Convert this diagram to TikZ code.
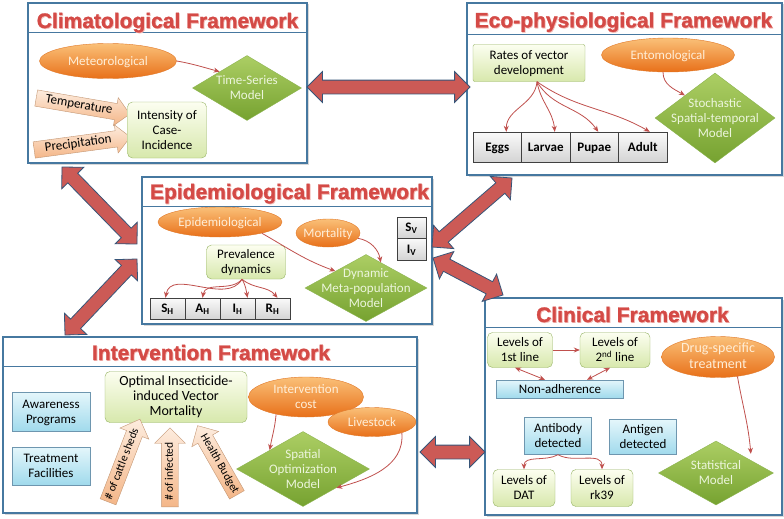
\documentclass[tikz,border=0pt]{standalone}
\usepackage{fontspec}
\setmainfont{Carlito}
\newfontfamily\titlefamily[FakeBold=1.2]{Liberation Sans Bold}
\usetikzlibrary{shapes.geometric,shapes.arrows,arrows.meta,shadows,calc}
\definecolor{framecol}{RGB}{70,120,160}
\definecolor{titlered}{RGB}{212,74,70}
\definecolor{titleglow}{RGB}{244,185,180}
\definecolor{arrred}{RGB}{192,80,77}
\definecolor{bigfill}{RGB}{204,90,86}
\definecolor{bigedge}{RGB}{55,85,120}
\definecolor{orangetop}{RGB}{250,192,120}
\definecolor{orangebot}{RGB}{232,112,25}
\definecolor{orangeedge}{RGB}{225,120,40}
\definecolor{orangetext}{RGB}{255,238,215}
\definecolor{greentop}{RGB}{172,206,100}
\definecolor{greenbot}{RGB}{118,162,48}
\definecolor{greenedge}{RGB}{140,180,80}
\definecolor{greentext}{RGB}{236,245,220}
\definecolor{lgtop}{RGB}{252,254,240}
\definecolor{lgbot}{RGB}{215,232,172}
\definecolor{lgedge}{RGB}{150,180,100}
\definecolor{lbtop}{RGB}{228,246,251}
\definecolor{lbbot}{RGB}{160,218,236}
\definecolor{lbedge}{RGB}{110,150,175}
\definecolor{greytop}{RGB}{250,250,250}
\definecolor{greybot}{RGB}{212,212,212}
\definecolor{peachtop}{RGB}{253,236,222}
\definecolor{peachbot}{RGB}{244,182,136}
\definecolor{peachedge}{RGB}{195,150,115}
\newcommand\ctext[1]{\makebox[0pt]{\smash{\raisebox{-4.3pt}{\begin{tabular}{@{}c@{}}#1\end{tabular}}}}}
\newcommand\bodyfont{\fontsize{13}{15}\selectfont}
\newcommand\smallbody{\fontsize{11.5}{13}\selectfont}
\newcommand\titlefont{\titlefamily\fontsize{21}{24}\selectfont}
\tikzset{
  frame/.style={rectangle, draw=framecol, line width=1.1pt, fill=white, inner sep=0pt,
    drop shadow={shadow xshift=1.5pt, shadow yshift=-1.5pt, opacity=.3}},
  ftitle/.style={font=\titlefont, text=titlered, inner sep=0pt, anchor=base},
  fglow/.style={font=\titlefont, text=titleglow, inner sep=0pt, anchor=base},
  orangeell/.style={ellipse, draw=orangeedge, top color=orangetop, bottom color=orangebot,
    text=orangetext, inner sep=0pt, font=\bodyfont},
  greendia/.style={diamond, draw=greenedge, top color=greentop, bottom color=greenbot,
    text=greentext, inner sep=0pt, font=\bodyfont},
  lgbox/.style={rectangle, rounded corners=5pt, draw=lgedge, top color=lgtop, bottom color=lgbot,
    inner sep=0pt, font=\bodyfont},
  lbbox/.style={rectangle, draw=lbedge, top color=lbtop, bottom color=lbbot, inner sep=0pt, font=\bodyfont},
  cellbox/.style={rectangle, draw=black!75, top color=greytop, bottom color=greybot, inner sep=0pt,
    font=\bodyfont\bfseries},
  peach/.style={single arrow, draw=peachedge, top color=peachtop, bottom color=peachbot,
    single arrow head extend=6pt, inner xsep=2pt, inner ysep=1.5pt, text height=9.5pt,
    text depth=3.5pt, font=\bodyfont},
  peachs/.style={peach, font=\smallbody, text height=9pt, text depth=3.5pt, inner ysep=2pt,
    single arrow head extend=7pt},
  bigarr/.style={double arrow, draw=bigedge, fill=bigfill, line width=.8pt,
    double arrow head extend=8.5pt, inner sep=0pt, text height=6.5pt, text depth=6.5pt},
  rarr/.style={draw=arrred, line width=.8pt, -{Stealth[length=6pt,width=5pt]}},
  rdarr/.style={draw=arrred, line width=.8pt, {Stealth[length=6pt,width=5pt]}-{Stealth[length=6pt,width=5pt]}},
}
\begin{document}
\begin{tikzpicture}[x=1pt,y=1pt]
\fill[white] (0,0) rectangle (784,-519);
\useasboundingbox (0,0) rectangle (784,-519);

% ---------- frames ----------
\node[frame, minimum width=279, minimum height=160] (clim) at (167.5,-83) {};
\node[frame, minimum width=315, minimum height=172] (eco) at (624.5,-89) {};
\node[frame, minimum width=290, minimum height=147] (epi) at (287,-250.5) {};
\node[frame, minimum width=297, minimum height=217] (clin) at (633.5,-406.5) {};
\node[frame, minimum width=414, minimum height=176] (interv) at (210,-425) {};
\draw[framecol, line width=1.1pt] ([yshift=-30pt]clim.north west) -- ([yshift=-30pt]clim.north east);
\draw[framecol, line width=1.1pt] ([yshift=-32pt]eco.north west) -- ([yshift=-32pt]eco.north east);
\draw[framecol, line width=1.1pt] ([yshift=-30pt]epi.north west) -- ([yshift=-30pt]epi.north east);
\draw[framecol, line width=1.1pt] ([yshift=-30pt]clin.north west) -- ([yshift=-30pt]clin.north east);
\draw[framecol, line width=1.1pt] ([yshift=-30pt]interv.north west) -- ([yshift=-30pt]interv.north east);

% ---------- titles ----------
\node[fglow] (climTs) at (168.3,-28.8) {Climatological Framework};
\node[ftitle] (climT) at (167.5,-28) {Climatological Framework};
\node[fglow] (ecoTs) at (624.3,-28.3) {Eco-physiological Framework};
\node[ftitle] (ecoT) at (623.5,-27.5) {Eco-physiological Framework};
\node[fglow] (epiTs) at (290.3,-199.8) {Epidemiological Framework};
\node[ftitle] (epiT) at (289.5,-199) {Epidemiological Framework};
\node[fglow] (clinTs) at (633.3,-322.8) {Clinical Framework};
\node[ftitle] (clinT) at (632.5,-322) {Clinical Framework};
\node[fglow] (intTs) at (211.8,-360.8) {Intervention Framework};
\node[ftitle] (intT) at (211,-360) {Intervention Framework};

% ---------- Climatological ----------
\node[orangeell, minimum width=137, minimum height=35] (met) at (108,-61) {\ctext{Meteorological}};
\node[greendia, minimum width=109, minimum height=65] (ts) at (247,-88) {\ctext{Time-Series\\Model}};
\node[peach, rotate=-9.7, minimum height=95, anchor=tail] (temp) at (36,-98) {Temperature};
\node[peach, rotate=7.7, minimum height=97, anchor=tail] (prec) at (34,-150) {Precipitation};
\node[lgbox, minimum width=79, minimum height=56] (inten) at (167,-130) {\ctext{Intensity of\\Case-\\Incidence}};
\draw[rarr] (met.east) to[out=-10,in=165] (ts.north west);

% ---------- Eco-physiological ----------
\node[lgbox, rounded corners=2pt, minimum width=112, minimum height=37] (rates) at (529,-63) {\ctext{Rates of vector\\development}};
\node[orangeell, minimum width=133, minimum height=34] (ento) at (668,-55) {\ctext{Entomological}};
\node[greendia, minimum width=120, minimum height=90] (stoch) at (715,-118) {\ctext{Stochastic\\Spatial-temporal\\Model}};
\node[cellbox, minimum width=48.5, minimum height=30] (eggs) at (497.25,-147) {\ctext{Eggs}};
\node[cellbox, minimum width=48.5, minimum height=30] (larvae) at (545.75,-147) {\ctext{Larvae}};
\node[cellbox, minimum width=48.5, minimum height=30] (pupae) at (594.25,-147) {\ctext{Pupae}};
\node[cellbox, minimum width=48.5, minimum height=30] (adult) at (642.75,-147) {\ctext{Adult}};
\coordinate (rs) at ([xshift=8pt]rates.south);
\draw[rarr] (rs) to[out=-95,in=90] ([xshift=9pt]eggs.north);
\draw[rarr] (rs) to[out=-80,in=95] ([xshift=9pt]larvae.north);
\draw[rarr] (rs) to[out=-60,in=125] ([xshift=4pt]pupae.north);
\draw[rarr] (rs) to[out=-35,in=150] ([xshift=7pt]adult.north);
\draw[rarr] ([xshift=-5pt]ento.south) to[out=-90,in=150] (stoch.north west);

% ---------- Epidemiological ----------
\node[orangeell, minimum width=124, minimum height=30] (epiell) at (220,-222) {\ctext{Epidemiological}};
\node[orangeell, minimum width=64, minimum height=28] (mort) at (328,-233) {\ctext{Mortality}};
\node[cellbox, minimum width=29, minimum height=21] (sv) at (411.5,-227.5) {\ctext{S\textsubscript{V}}};
\node[cellbox, minimum width=29, minimum height=22] (iv) at (411.5,-249) {\ctext{I\textsubscript{V}}};
\node[lgbox, minimum width=79, minimum height=34] (prev) at (246,-262) {\ctext{Prevalence\\dynamics}};
\node[greendia, minimum width=122, minimum height=67] (dmp) at (366,-288) {\ctext{Dynamic\\Meta-population\\Model}};
\node[cellbox, minimum width=35, minimum height=21] (sh) at (167.5,-308.5) {\ctext{S\textsubscript{H}}};
\node[cellbox, minimum width=35, minimum height=21] (ah) at (202.5,-308.5) {\ctext{A\textsubscript{H}}};
\node[cellbox, minimum width=35, minimum height=21] (ih) at (237.5,-308.5) {\ctext{I\textsubscript{H}}};
\node[cellbox, minimum width=35, minimum height=21] (rh) at (272.5,-308.5) {\ctext{R\textsubscript{H}}};
\coordinate (ps) at ([xshift=-4pt]prev.south);
\draw[rarr] (ps) to[out=-120,in=80] ([xshift=-2pt]sh.north);
\draw[rarr] (ps) to[out=-130,in=80] (ah.north);
\draw[rarr] (ps) to[out=-60,in=100] ([xshift=10pt]ih.north);
\draw[rarr] (ps) to[out=-40,in=130] ([xshift=5pt]rh.north);
\draw[rarr] (epiell.-15) to[out=-30,in=160] (dmp.north west);
\draw[rarr] (mort.-10) to[out=-10,in=100] (dmp.60);

% ---------- Clinical ----------
\node[lgbox, minimum width=65, minimum height=35] (l1) at (520,-350) {\ctext{Levels of\\1st line}};
\node[lgbox, minimum width=70, minimum height=35] (l2) at (615,-350) {\ctext{Levels of\\2\textsuperscript{nd} line}};
\node[lbbox, minimum width=127, minimum height=18] (nonadh) at (560,-389) {\ctext{Non-adherence}};
\node[orangeell, minimum width=113, minimum height=41, font=\fontsize{14}{16}\selectfont] (drug) at (718,-357) {\ctext{Drug-specific\\treatment}};
\node[lbbox, minimum width=67, minimum height=37] (antib) at (558,-436) {\ctext{Antibody\\detected}};
\node[lbbox, minimum width=67, minimum height=35] (antig) at (643,-437) {\ctext{Antigen\\detected}};
\node[lgbox, minimum width=62, minimum height=37] (dat) at (524,-488) {\ctext{Levels of\\DAT}};
\node[lgbox, minimum width=62, minimum height=37] (rk) at (602,-488) {\ctext{Levels of\\rk39}};
\node[greendia, minimum width=115, minimum height=64] (stat) at (716,-473) {\ctext{Statistical\\Model}};
\draw[rarr] (l1.east) -- (l2.west);
\draw[rdarr] ([xshift=-5pt]l1.south) -- ([xshift=-15pt]nonadh.north);
\draw[rdarr] ([xshift=-5pt]l2.south) -- ([xshift=27pt]nonadh.north);
\draw[rarr] (antib.south) to[out=-150,in=90] (dat.north);
\draw[rarr] (antib.south) to[out=-30,in=90] (rk.north);
\draw[rarr] (drug.-45) to[out=-80,in=95] ([shift={(6pt,3pt)}]stat.north east);

% ---------- Intervention ----------
\node[lbbox, minimum width=78, minimum height=39] (aware) at (51,-412) {\ctext{Awareness\\Programs}};
\node[lbbox, minimum width=78, minimum height=38] (treat) at (51,-466) {\ctext{Treatment\\Facilities}};
\node[lgbox, minimum width=142, minimum height=51, font=\fontsize{14}{15}\selectfont] (optim) at (176,-397) {\ctext{Optimal Insecticide-\\induced Vector\\Mortality}};
\node[orangeell, minimum width=115, minimum height=40] (icost) at (306,-397) {\ctext{Intervention\\cost}};
\node[orangeell, minimum width=88, minimum height=29] (live) at (372,-422) {\ctext{Livestock}};
\node[greendia, minimum width=133, minimum height=75] (spat) at (303,-469) {\ctext{Spatial\\Optimization\\Model}};
\node[peachs, rotate=68.9, minimum height=80, anchor=tail] (cattle) at (108,-502) {\# of cattle sheds};
\node[peachs, rotate=90, minimum height=79, anchor=tail] (infect) at (170,-507) {\# of infected};
\node[peachs, rotate=-60.4, shape border rotate=180, minimum height=77, anchor=tail] (budget) at (237,-495) {Health Budget};
\draw[rarr] (icost.-150) to[out=-95,in=80] (spat.north west);
\draw[rarr] (live.-20) to[out=-85,in=15] (spat.south east);

% ---------- big double arrows ----------
\coordinate (b1a) at (307,-87);  \coordinate (b1b) at (470,-87);
\coordinate (b2a) at (62,-167);  \coordinate (b2b) at (137,-244);
\coordinate (b3a) at (137,-259); \coordinate (b3b) at (65,-335);
\coordinate (b4a) at (432,-247); \coordinate (b4b) at (512,-178);
\coordinate (b5a) at (433,-258); \coordinate (b5b) at (503,-295);
\coordinate (b6a) at (420,-452); \coordinate (b6b) at (485,-452);
\foreach \ia/\ib/\nm in {b1a/b1b/big1, b2a/b2b/big2, b3a/b3b/big3, b4a/b4b/big4, b5a/b5b/big5, b6a/b6b/big6}{
  \path let \p1=($(\ib)-(\ia)$), \n1={veclen(\x1,\y1)} in
    (\ia) -- (\ib) node[midway, sloped, bigarr, minimum height=\n1] (\nm) {};
}
\end{tikzpicture}
\end{document}
